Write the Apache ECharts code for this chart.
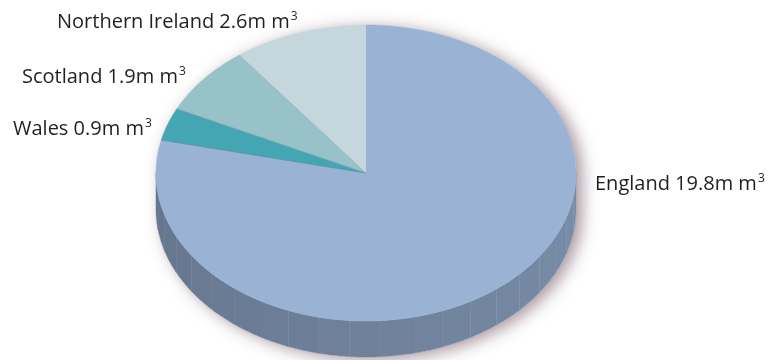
<!DOCTYPE html>
<html><head><meta charset="utf-8">
<script src="https://cdn.jsdelivr.net/npm/echarts@6/dist/echarts.min.js"></script>
<style>html,body{margin:0;padding:0;background:#fff}#c{width:777px;height:360px}</style>
</head><body><div id="c"></div>
<script>
// data
const names = ['England', 'Wales', 'Scotland', 'Northern Ireland'];
const values = [19.8, 0.9, 1.9, 2.6];
const unit = 'm m';
// styles
const topColors = ['#9ab2d3', '#45a6b3', '#97c2c8', '#c5d6dd'];
const labelPos = [[595, 182], [13, 127], [22, 75], [57, 20]];

const cx = 366, cy = 173, rx = 210, ry = 148, depth = 36;
const total = values.reduce((a, b) => a + b, 0);
const cum = [0];
values.forEach((v, i) => cum.push(cum[i] + v));
const ang = v => v / total * Math.PI * 2;
const pt = (t, dy) => [cx + rx * Math.sin(t), cy - ry * Math.cos(t) + (dy || 0)];

function arcPts(a, b, dy) {
  const n = Math.max(2, Math.ceil((b - a) / 0.01));
  const out = [];
  for (let k = 0; k <= n; k++) out.push(pt(a + (b - a) * k / n, dy));
  return out;
}

function mix(c1, c2, t) {
  const p = c => [1, 3, 5].map(j => parseInt(c.substr(j, 2), 16));
  const a = p(c1), b = p(c2);
  return 'rgb(' + a.map((x, j) => Math.round(x + (b[j] - x) * t)).join(',') + ')';
}

function sideItem(params, api) {
  const i = params.dataIndex;
  const a = Math.max(ang(cum[i]), Math.PI / 2);
  const b = Math.min(ang(cum[i + 1]), Math.PI * 1.5);
  const children = [];
  if (i === 0) {
    const topBack = arcPts(-Math.PI / 2, Math.PI / 2, 0);
    const botFront = arcPts(Math.PI / 2, Math.PI * 1.5, depth);
    children.push({
      type: 'polygon',
      shape: { points: topBack.concat(botFront) },
      style: { fill: '#fff', shadowBlur: 16, shadowOffsetX: 6, shadowOffsetY: 3, shadowColor: 'rgba(110,80,95,0.6)' }
    });
  }
  if (b > a) {
    const step = 0.15;
    for (let s = a; s < b - 1e-6; s += step) {
      const e = Math.min(b, s + step);
      const top = arcPts(s, e, 0);
      const bot = arcPts(s, e, depth).reverse();
      const m = (s + e) / 2;
      const t = (m - Math.PI / 2) / Math.PI;
      const col = mix('#7a8ea9', '#65748d', t);
      children.push({
        type: 'polygon',
        shape: { points: top.concat(bot) },
        style: { fill: col, stroke: col, lineWidth: 0.4 }
      });
    }
  }
  return { type: 'group', children };
}

function topItem(params, api) {
  const i = params.dataIndex;
  const a = ang(cum[i]), b = ang(cum[i + 1]);
  const arc = arcPts(a, b, 0);
  return {
    type: 'group',
    children: [
      { type: 'polygon', shape: { points: [[cx, cy]].concat(arc) },
        style: { fill: topColors[i], stroke: topColors[i], lineWidth: 0.5 } },
      { type: 'polyline', shape: { points: [arc[0], [cx, cy]] },
        style: { stroke: 'rgba(70,95,115,0.35)', lineWidth: 0.7, fill: null } }
    ]
  };
}

const seriesData = values.map((v, i) => ({ name: names[i], value: v }));

const chart = echarts.init(document.getElementById('c'), null, { renderer: 'canvas' });
chart.setOption({
  animation: false,
  backgroundColor: '#fff',
  series: [
    { type: 'custom', coordinateSystem: 'none', renderItem: sideItem, data: seriesData, z: 1 },
    { type: 'custom', coordinateSystem: 'none', renderItem: topItem, data: seriesData, z: 2 }
  ],
  graphic: names.map((n, i) => ({
    type: 'text',
    left: labelPos[i][0],
    top: labelPos[i][1] - 12,
    z: 10,
    style: {
      text: '{a|' + n + ' ' + values[i].toFixed(1) + unit + '}{s|3}',
      rich: {
        a: { fontFamily: 'Open Sans', fontSize: 20, fill: '#231f20', lineHeight: 24, verticalAlign: 'bottom' },
        s: { fontFamily: 'Open Sans', fontSize: 12, fill: '#231f20', lineHeight: 14, padding: [3, 0, 0, 1], verticalAlign: 'top' }
      }
    }
  }))
});
</script></body></html>
